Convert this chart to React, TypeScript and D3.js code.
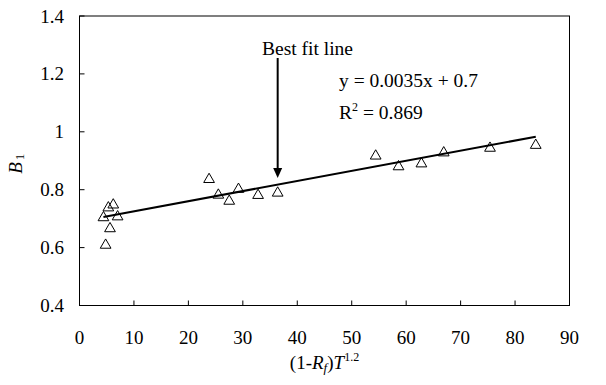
import * as React from "react";
import { scaleLinear, line as d3Line, symbol, symbolTriangle } from "d3";

interface pt {
  x: number;
  y: number;
}

const xValues = [4.4, 4.8, 5.3, 5.6, 6.2, 7.0, 23.8, 25.5, 27.5, 29.2, 32.8, 36.4, 54.4, 58.6, 62.8, 66.9, 75.4, 83.8];
const yValues = [0.707, 0.612, 0.741, 0.669, 0.751, 0.71, 0.839, 0.785, 0.764, 0.805, 0.784, 0.792, 0.92, 0.883, 0.893, 0.931, 0.947, 0.957];
const fitLine: pt[] = [
  { x: 4.4, y: 0.706 },
  { x: 83.8, y: 0.983 },
];
const xTicks = [0, 10, 20, 30, 40, 50, 60, 70, 80, 90];
const yTicks = [0.4, 0.6, 0.8, 1, 1.2, 1.4];
const arrowAt = { x: 36.4, yTop: 1.255, yBottom: 0.84 };

const font = "'Liberation Serif', 'Times New Roman', serif";

const App = () => {
  const W = 606;
  const H = 385;
  const m = { left: 79.5, right: 569.5, top: 16, bottom: 305.5 };

  const x = scaleLinear().domain([0, 90]).range([m.left, m.right]);
  const y = scaleLinear().domain([0.4, 1.4]).range([m.bottom, m.top]);
  const line = d3Line<pt>()
    .x(d => x(d.x))
    .y(d => y(d.y));
  const tri = symbol().type(symbolTriangle).size(50)();

  const points: pt[] = xValues.map((v, i) => ({ x: v, y: yValues[i] }));
  const ax = x(arrowAt.x);
  const ay1 = y(arrowAt.yTop);
  const ay2 = y(arrowAt.yBottom);

  return (
    <svg
      width={W}
      height={H}
      style={{ position: "absolute", left: 0, top: 0, background: "#fff" }}
      fontFamily={font}
    >
      <rect
        x={m.left}
        y={m.top}
        width={m.right - m.left}
        height={m.bottom - m.top}
        fill="none"
        stroke="#000"
        strokeWidth={1}
      />
      {xTicks.map(t => (
        <g key={"x" + t}>
          <line x1={x(t)} x2={x(t)} y1={m.bottom} y2={m.bottom - 5} stroke="#000" />
          <text x={x(t)} y={344} textAnchor="middle" fontSize={19}>
            {t}
          </text>
        </g>
      ))}
      {yTicks.map(t => (
        <g key={"y" + t}>
          <line x1={m.left} x2={m.left + 5} y1={y(t)} y2={y(t)} stroke="#000" />
          <text x={64} y={y(t) + 6.5} textAnchor="end" fontSize={19}>
            {t}
          </text>
        </g>
      ))}
      <path d={line(fitLine) || ""} fill="none" stroke="#000" strokeWidth={2} />
      {points.map((d, i) => (
        <path
          key={i}
          d={tri || ""}
          transform={`translate(${x(d.x)},${y(d.y) + 1})`}
          fill="none"
          stroke="#000"
          strokeWidth={1}
        />
      ))}
      <line x1={ax} x2={ax} y1={ay1} y2={ay2 - 9} stroke="#000" strokeWidth={2} />
      <path d={`M${ax - 4.5},${ay2 - 10} L${ax + 4.5},${ay2 - 10} L${ax},${ay2} Z`} fill="#000" />
      <text x={262} y={55} fontSize={19.5}>
        Best fit line
      </text>
      <text x={339} y={87} fontSize={19.5}>
        y = 0.0035x + 0.7
      </text>
      <text x={339} y={119} fontSize={19.5}>
        R<tspan dy={-8} fontSize={12}>2</tspan>
        <tspan dy={8}> = 0.869</tspan>
      </text>
      <text x={(m.left + m.right) / 2} y={369} textAnchor="middle" fontSize={19}>
        (1-<tspan fontStyle="italic">R</tspan>
        <tspan fontStyle="italic" fontSize={13} dy={3}>f</tspan>
        <tspan dy={-3}>)</tspan>
        <tspan fontStyle="italic">T</tspan>
        <tspan fontSize={12} dy={-8}>1.2</tspan>
      </text>
      <text transform={`translate(22,${(m.top + m.bottom) / 2 + 3}) rotate(-90)`} textAnchor="middle" fontSize={19}>
        <tspan fontStyle="italic">B</tspan>
        <tspan fontSize={13} dy={2} dx={2}>1</tspan>
      </text>
    </svg>
  );
};

export default App;
